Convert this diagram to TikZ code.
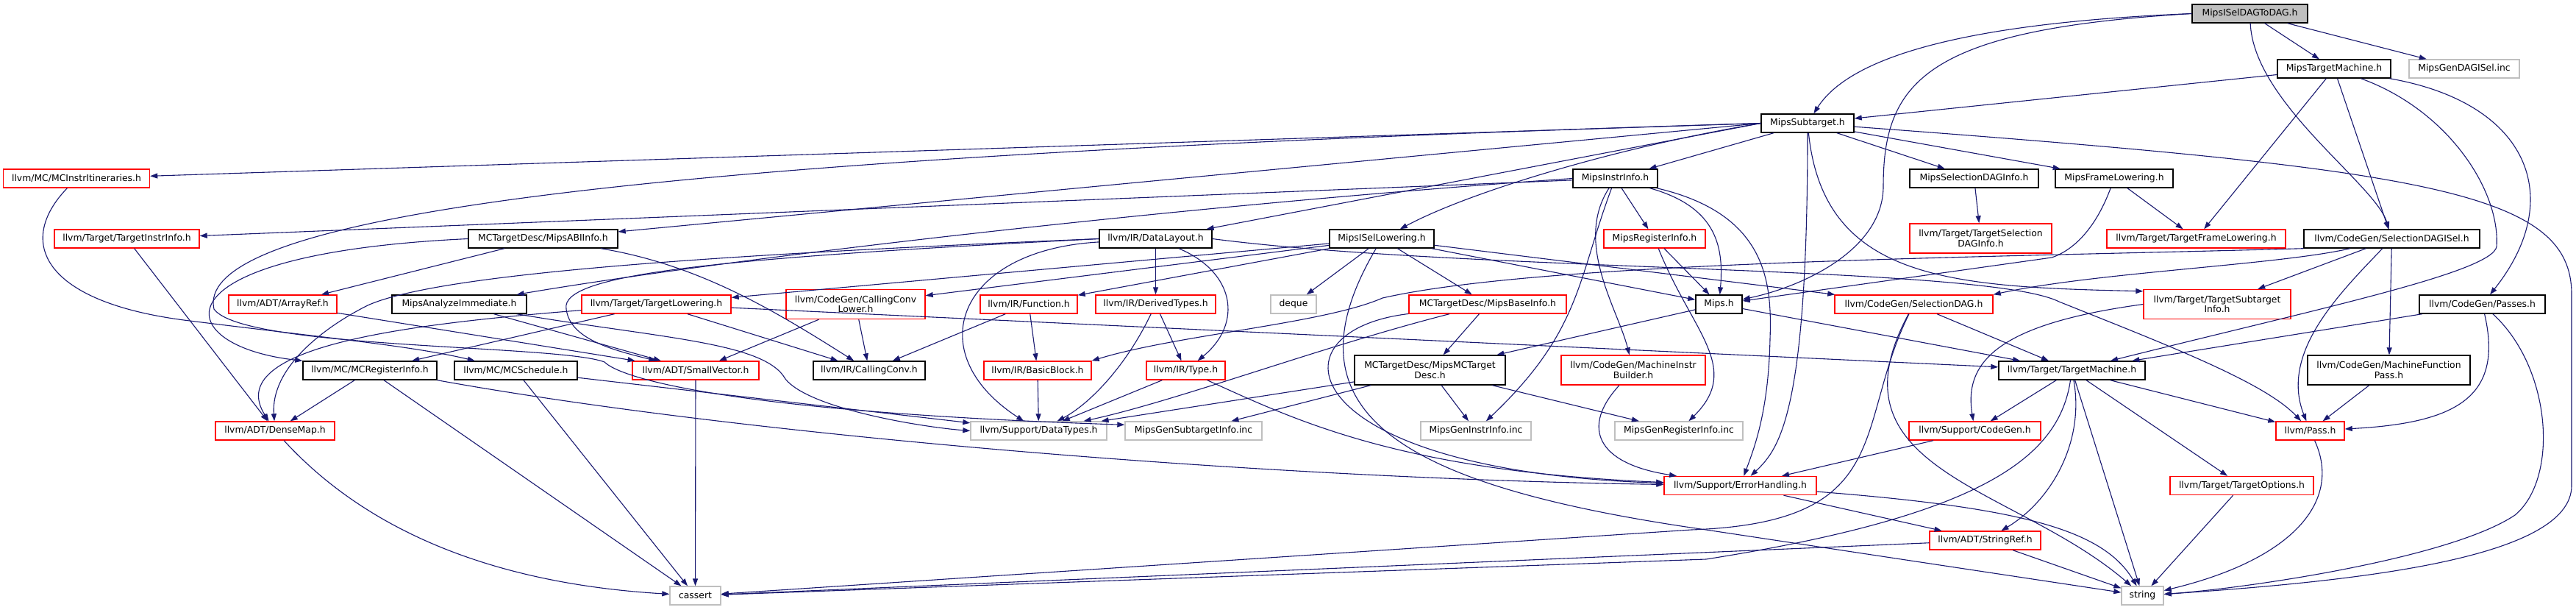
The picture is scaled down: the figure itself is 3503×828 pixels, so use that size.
\documentclass[tikz,border=0pt]{standalone}
\usepackage{fontspec}
\setmainfont{DejaVu Sans}
\usepackage{tikz}
\usetikzlibrary{arrows.meta}
\definecolor{edgeblue}{HTML}{191970}
\definecolor{boxgrey}{HTML}{BFBFBF}

\begin{document}
\begin{tikzpicture}[>={Triangle[length=10pt,width=7pt]},x=1pt,y=-1pt,
	filebox/.style={rectangle,line width=1.4pt,fill=white,inner sep=0pt,minimum height=25pt,align=center,font=\fontsize{12.4}{13.4}\selectfont},
	blk/.style={filebox,draw=black},
	trunc/.style={filebox,draw=red},
	ext/.style={filebox,draw=boxgrey},
	root/.style={filebox,draw=black,fill=boxgrey},
	tall/.style={minimum height=40pt},
	dep/.style={->,draw=edgeblue,line width=1.1pt}]
		
		\fill[white] (0,0) rectangle (3503,828);
		\useasboundingbox (0,0) rectangle (3503,828);
		
		%---------------- Mips headers ----------------%
		
		\node[root,minimum width=157pt] (dag) at (3059.5,18.5)
		{MipsISelDAGToDAG.h};
		\node[blk,minimum width=154pt] (tm) at (3174,93.5)
		{MipsTargetMachine.h};
		\node[ext,minimum width=150pt] (gendag) at (3351,93.5)
		{MipsGenDAGISel.inc};
		\node[blk,minimum width=126pt] (sub) at (2458,167.5)
		{MipsSubtarget.h};
		
		\node[trunc,minimum width=199pt] (itin) at (104,242.5)
		{llvm/MC/MCInstrItineraries.h};
		\node[blk,minimum width=115pt] (iinfo) at (2196.5,242.5)
		{MipsInstrInfo.h};
		\node[blk,minimum width=175pt] (sdaginfo) at (2684.5,242.5)
		{MipsSelectionDAGInfo.h};
		\node[blk,minimum width=160pt] (mfl) at (2875,242.5)
		{MipsFrameLowering.h};
		
		\node[trunc,minimum width=197pt] (tii) at (172.5,324.5)
		{llvm/Target/TargetInstrInfo.h};
		\node[blk,minimum width=203pt] (abi) at (738.5,324.5)
		{MCTargetDesc/MipsABIInfo.h};
		\node[blk,minimum width=153pt] (dl) at (1571.5,324.5)
		{llvm/IR/DataLayout.h};
		\node[blk,minimum width=142pt] (isel) at (1879,324.5)
		{MipsISelLowering.h};
		\node[trunc,minimum width=138pt] (reginfo) at (2250,324.5)
		{MipsRegisterInfo.h};
		\node[trunc,tall,minimum width=193pt] (tsdag) at (2693.5,324)
		{llvm/Target/TargetSelection\\DAGInfo.h};
		\node[trunc,minimum width=243pt] (tfl) at (2986.5,324.5)
		{llvm/Target/TargetFrameLowering.h};
		\node[blk,minimum width=239pt] (sdagisel) at (3252.5,324.5)
		{llvm/CodeGen/SelectionDAGISel.h};
		
		%---------------- middle rows ----------------%
		
		\node[trunc,minimum width=147pt] (arrayref) at (384.5,413.5)
		{llvm/ADT/ArrayRef.h};
		\node[blk,minimum width=183pt] (analyze) at (624.5,413.5)
		{MipsAnalyzeImmediate.h};
		\node[trunc,minimum width=203pt] (tlow) at (892.5,413.5)
		{llvm/Target/TargetLowering.h};
		\node[trunc,tall,minimum width=189pt] (ccl) at (1163.5,413.5)
		{llvm/CodeGen/CallingConv\\Lower.h};
		\node[trunc,minimum width=132pt] (func) at (1399,413.5)
		{llvm/IR/Function.h};
		\node[trunc,minimum width=163pt] (dtypes) at (1571.5,413.5)
		{llvm/IR/DerivedTypes.h};
		\node[ext,minimum width=62pt] (deque) at (1759,413.5)
		{deque};
		\node[trunc,minimum width=214pt] (mbi) at (2023,413.5)
		{MCTargetDesc/MipsBaseInfo.h};
		\node[blk,minimum width=63pt] (mips) at (2337.5,413.5)
		{Mips.h};
		\node[trunc,minimum width=215pt] (sdag) at (2602.5,413.5)
		{llvm/CodeGen/SelectionDAG.h};
		\node[trunc,tall,minimum width=200pt] (tsi) at (3015,413.5)
		{llvm/Target/TargetSubtarget\\Info.h};
		\node[blk,minimum width=171pt] (passes) at (3375.5,413.5)
		{llvm/CodeGen/Passes.h};
		
		\node[blk,minimum width=182pt] (mcreg) at (503,503.5)
		{llvm/MC/MCRegisterInfo.h};
		\node[blk,minimum width=167pt] (mcsched) at (701.5,503.5)
		{llvm/MC/MCSchedule.h};
		\node[trunc,minimum width=172pt] (svec) at (946,503.5)
		{llvm/ADT/SmallVector.h};
		\node[blk,minimum width=152pt] (cconv) at (1182,503.5)
		{llvm/IR/CallingConv.h};
		\node[trunc,minimum width=146pt] (bblock) at (1411,503.5)
		{llvm/IR/BasicBlock.h};
		\node[trunc,minimum width=107pt] (type) at (1612.5,503.5)
		{llvm/IR/Type.h};
		\node[blk,tall,minimum width=205pt] (mcdesc) at (1944.5,503)
		{MCTargetDesc/MipsMCTarget\\Desc.h};
		\node[trunc,tall,minimum width=196pt] (mib) at (2221,503)
		{llvm/CodeGen/MachineInstr\\Builder.h};
		\node[blk,minimum width=199pt] (tmach) at (2817.5,503.5)
		{llvm/Target/TargetMachine.h};
		\node[blk,tall,minimum width=221pt] (mfp) at (3248.5,503)
		{llvm/CodeGen/MachineFunction\\Pass.h};
		
		%---------------- bottom rows ----------------%
		
		\node[trunc,minimum width=162pt] (densemap) at (374,585.5)
		{llvm/ADT/DenseMap.h};
		\node[ext,minimum width=185pt] (dtypesh) at (1412.5,585.5)
		{llvm/Support/DataTypes.h};
		\node[ext,minimum width=186pt] (gensub) at (1623,585.5)
		{MipsGenSubtargetInfo.inc};
		\node[ext,minimum width=150pt] (geninstr) at (2007,585.5)
		{MipsGenInstrInfo.inc};
		\node[ext,minimum width=174pt] (genreg) at (2283,585.5)
		{MipsGenRegisterInfo.inc};
		\node[trunc,minimum width=179pt] (codegen) at (2685.5,585.5)
		{llvm/Support/CodeGen.h};
		\node[trunc,minimum width=93pt] (pass) at (3141.5,585.5)
		{llvm/Pass.h};
		\node[trunc,minimum width=207pt] (err) at (2366.5,660)
		{llvm/Support/ErrorHandling.h};
		\node[trunc,minimum width=195pt] (topts) at (3048.5,660)
		{llvm/Target/TargetOptions.h};
		\node[trunc,minimum width=151pt] (sref) at (2699.5,734.5)
		{llvm/ADT/StringRef.h};
		\node[ext,minimum width=69pt] (cassert) at (945.5,809.5)
		{cassert};
		\node[ext,minimum width=57pt] (string) at (2913.5,809.5)
		{string};
		
		%---------------- includes: top ----------------%
		
		\draw[dep] (dag)--(tm);
		\draw[dep] (dag)--(gendag);
		\draw[dep] (dag) .. controls (3065,140) and (3230,250) .. (sdagisel);
		\draw[dep] (dag.west) .. controls (2700,30) and (2520,70) .. (sub);
		\draw[dep] (dag.west) .. controls (2620,40) and (2561,110) .. (2561,253) .. controls (2561,340) and (2450,390) .. (mips);
		
		\draw[dep] (tm)--(sub);
		\draw[dep] (tm)--(tfl);
		\draw[dep] (tm)--(sdagisel);
		\draw[dep] (tm) .. controls (3330,150) and (3400,260) .. (3395,335) .. controls (3390,370) and (3150,420) .. (tmach);
		\draw[dep] (tm) .. controls (3440,140) and (3490,270) .. (passes);
		
		\draw[dep] (sub.west)--(itin);
		\draw[dep] (sub)--(iinfo);
		\draw[dep] (sub)--(sdaginfo);
		\draw[dep] (sub)--(mfl);
		\draw[dep] (sub.west)--(abi);
		\draw[dep] (sub.west)--(dl);
		\draw[dep] (sub.west) .. controls (2200,200) and (2000,260) .. (isel);
		\draw[dep] (sub) .. controls (2458,560) and (2420,610) .. (err);
		\draw[dep] (sub) .. controls (2480,380) and (2650,390) .. (tsi.170);
		\draw[dep] (sub) .. controls (3300,230) and (3497,260) .. (3497,400)--(3497,660) .. controls (3497,760) and (3200,790) .. (string);
		\draw[dep] (sub.west) .. controls (1000,210) and (260,280) .. (291,420) .. controls (330,475) and (760,468) .. (822,492) .. controls (845,515) and (1000,560) .. (gensub.175);
		
		%---------------- includes: Mips headers ----------------%
		
		\draw[dep] (iinfo)--(tii);
		\draw[dep] (iinfo.west) .. controls (1600,280) and (1000,350) .. (analyze);
		\draw[dep] (iinfo)--(reginfo);
		\draw[dep] (iinfo) .. controls (2330,280) and (2345,330) .. (mips);
		\draw[dep] (iinfo) .. controls (2400,290) and (2410,380) .. (2407,460) .. controls (2405,560) and (2385,610) .. (err);
		\draw[dep] (iinfo) .. controls (2140,330) and (2200,420) .. (mib);
		\draw[dep] (iinfo) .. controls (2145,380) and (2150,450) .. (geninstr);
		
		\draw[dep] (isel)--(deque);
		\draw[dep] (isel)--(mbi);
		\draw[dep] (isel)--(mips);
		\draw[dep] (isel)--(sdag);
		\draw[dep] (isel)--(tlow);
		\draw[dep] (isel)--(ccl);
		\draw[dep] (isel)--(func);
		\draw[dep] (isel) .. controls (1740,560) and (1900,660) .. (2320,720)--(string);
		
		\draw[dep] (mfl)--(tfl);
		\draw[dep] (mfl) .. controls (2850,310) and (2820,340) .. (2790,350)--(mips);
		\draw[dep] (sdaginfo)--(tsdag);
		\draw[dep] (reginfo)--(mips);
		\draw[dep] (reginfo) .. controls (2300,450) and (2370,500) .. (genreg);
		
		\draw[dep] (abi)--(arrayref);
		\draw[dep] (abi.west) .. controls (200,345) and (230,470) .. (mcreg.north west);
		\draw[dep] (abi) .. controls (950,360) and (1050,420) .. (cconv);
		\draw[dep] (analyze)--(svec);
		\draw[dep] (analyze) .. controls (900,460) and (1040,465) .. (1068,515) .. controls (1100,555) and (1250,580) .. (dtypesh.west);
		
		\draw[dep] (mips)--(mcdesc);
		\draw[dep] (mips)--(tmach);
		\draw[dep] (mbi)--(mcdesc);
		\draw[dep] (mbi) .. controls (1800,470) and (1600,545) .. (dtypesh);
		\draw[dep] (mbi) .. controls (1720,450) and (1760,640) .. (err);
		\draw[dep] (mcdesc)--(geninstr);
		\draw[dep] (mcdesc)--(genreg);
		\draw[dep] (mcdesc)--(dtypesh);
		\draw[dep] (mcdesc)--(gensub);
		\draw[dep] (mib) .. controls (2150,580) and (2170,630) .. (err);
		
		%---------------- includes: llvm ----------------%
		
		\draw[dep] (itin) .. controls (20,330) and (60,410) .. (250,435) .. controls (450,460) and (560,470) .. (mcsched);
		\draw[dep] (tii)--(densemap);
		\draw[dep] (arrayref)--(svec);
		
		\draw[dep] (tlow) .. controls (560,440) and (300,470) .. (densemap);
		\draw[dep] (tlow)--(mcreg);
		\draw[dep] (tlow)--(cconv);
		\draw[dep] (tlow)--(tmach);
		\draw[dep] (ccl)--(svec);
		\draw[dep] (ccl)--(cconv);
		\draw[dep] (func)--(cconv);
		\draw[dep] (func)--(bblock);
		
		\draw[dep] (dl)--(dtypes);
		\draw[dep] (dl) .. controls (1680,370) and (1690,440) .. (type);
		\draw[dep] (dl.west) .. controls (1000,345) and (600,370) .. (500,415) .. controls (440,445) and (368,500) .. (densemap);
		\draw[dep] (dl.west) .. controls (1000,350) and (760,370) .. (770,420) .. controls (775,460) and (830,475) .. (svec);
		\draw[dep] (dl) .. controls (1300,340) and (1250,480) .. (dtypesh);
		\draw[dep] (dl.east) .. controls (2000,370) and (2700,360) .. (2800,410) .. controls (2950,470) and (3080,520) .. (pass);
		
		\draw[dep] (dtypes)--(type);
		\draw[dep] (dtypes) .. controls (1530,500) and (1480,550) .. (dtypesh);
		\draw[dep] (bblock)--(dtypesh);
		\draw[dep] (type)--(dtypesh);
		\draw[dep] (type) .. controls (1760,570) and (1900,640) .. (err);
		
		\draw[dep] (mcreg)--(densemap);
		\draw[dep] (mcreg.south east) .. controls (1000,590) and (1700,650) .. (err);
		\draw[dep] (mcreg)--(cassert);
		\draw[dep] (mcsched)--(cassert);
		\draw[dep] (mcsched)--(dtypesh);
		\draw[dep] (svec)--(cassert);
		\draw[dep] (densemap) .. controls (470,690) and (620,790) .. (cassert);
		
		\draw[dep] (sdagisel.south west) .. controls (2700,350) and (2100,355) .. (1880,405) .. controls (1800,440) and (1600,455) .. (bblock.north east);
		\draw[dep] (sdagisel) .. controls (3100,360) and (2850,370) .. (sdag.north east);
		\draw[dep] (sdagisel)--(tsi);
		\draw[dep] (sdagisel) .. controls (3180,400) and (3100,480) .. (pass);
		\draw[dep] (sdagisel)--(mfp);
		
		\draw[dep] (sdag)--(tmach);
		\draw[dep] (sdag) .. controls (2520,580) and (2580,710) .. (2300,720)--(cassert);
		\draw[dep] (sdag) .. controls (2480,640) and (2740,660) .. (string);
		\draw[dep] (tsi.west) .. controls (2720,440) and (2670,490) .. (codegen);
		
		\draw[dep] (tmach)--(codegen);
		\draw[dep] (tmach) .. controls (2835,600) and (2790,680) .. (sref);
		\draw[dep] (tmach) .. controls (2800,620) and (2700,700) .. (2320,760)--(cassert);
		\draw[dep] (tmach)--(string);
		\draw[dep] (tmach)--(pass);
		\draw[dep] (tmach)--(topts);
		
		\draw[dep] (passes)--(tmach);
		\draw[dep] (passes) .. controls (3405,540) and (3340,575) .. (pass);
		\draw[dep] (passes) .. controls (3470,500) and (3480,650) .. (3420,700) .. controls (3330,760) and (3050,800) .. (string);
		\draw[dep] (mfp)--(pass);
		\draw[dep] (pass) .. controls (3185,680) and (3120,760) .. (string);
		\draw[dep] (topts)--(string);
		
		\draw[dep] (codegen)--(err);
		\draw[dep] (err)--(sref);
		\draw[dep] (err) .. controls (2750,690) and (2860,720) .. (string);
		\draw[dep] (sref)--(cassert);
		\draw[dep] (sref)--(string);
		
	\end{tikzpicture}
\end{document}
